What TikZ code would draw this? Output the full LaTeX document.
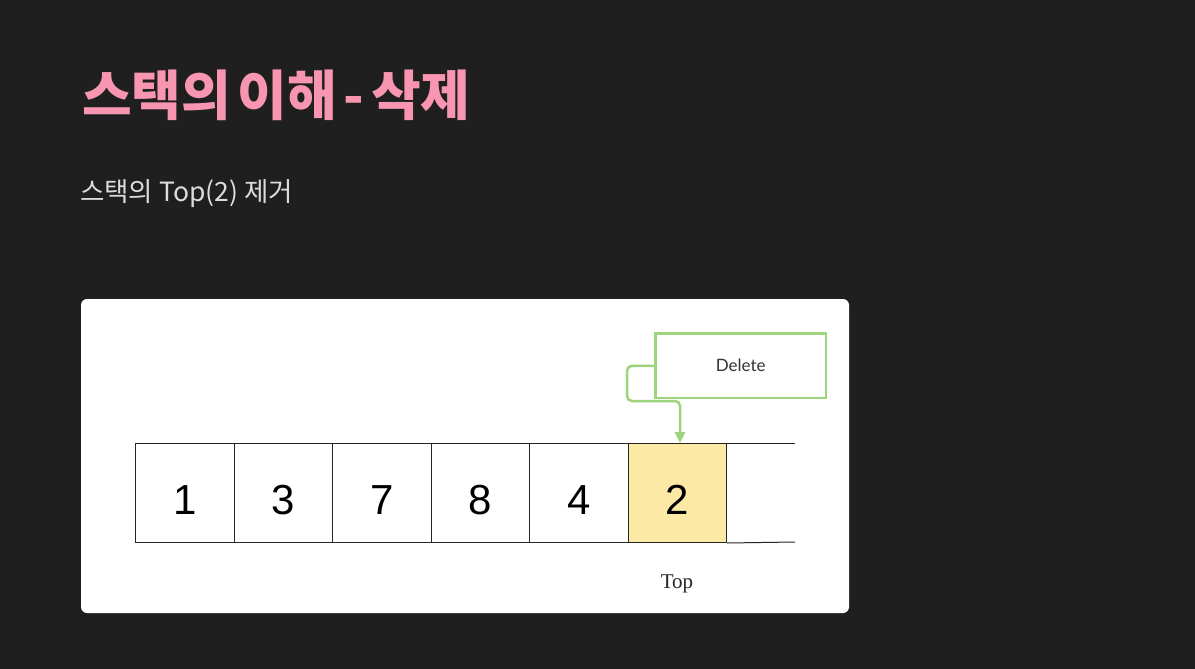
\documentclass[tikz,border=0pt]{standalone}
\usepackage{fontspec}
\newfontfamily\kr{Noto Sans CJK KR}
\newfontfamily\arialf{Liberation Sans}
\newfontfamily\timesf{Liberation Serif}
\newfontfamily\latof{Lato}
\usetikzlibrary{arrows.meta}
\definecolor{bg}{HTML}{1F1F1F}
\definecolor{pinkt}{HTML}{F895B0}
\definecolor{subt}{HTML}{DCDCDC}
\definecolor{greenl}{HTML}{9DD47C}
\definecolor{topfill}{HTML}{FDE9A6}
\definecolor{darkt}{HTML}{333333}
\tikzset{
  cell/.style={draw=black!85, line width=1pt, minimum width=98.5pt, minimum height=99pt, inner sep=0pt, anchor=north west, font=\arialf\fontsize{42}{42}\selectfont},
  greenbox/.style={draw=greenl, line width=2.5pt, minimum width=170.5pt, minimum height=64.5pt, anchor=north west, font=\latof\fontsize{17}{17}\selectfont, text=darkt},
  conn/.style={draw=greenl, line width=2.5pt, rounded corners=5pt, -{Triangle[length=11pt,width=10pt]}}
}
\newcommand{\dg}[1]{\raisebox{-21.5pt}[0pt][0pt]{#1}}
\newcommand{\tsp}{\hspace{6.6pt}}
\begin{document}
\begin{tikzpicture}[x=1pt,y=-1pt]
\fill[bg] (0,0) rectangle (1195,669);
\useasboundingbox (0,0) rectangle (1195,669);
\node[anchor=base west, inner sep=0pt, text=pinkt, font=\kr\bfseries\fontsize{54}{54}\selectfont] (title) at (82,115) {스택의\tsp 이해\tsp -\tsp 삭제};
\node[anchor=base west, inner sep=0pt, text=subt, font=\kr\fontsize{26.5}{26.5}\selectfont] (sub) at (80,201) {스택의 Top(2) 제거};
\fill[white, rounded corners=6pt] (81,299) rectangle (849,613);
\node[cell] (c1) at (135,443) {\dg{1}};
\node[cell] (c2) at (233.5,443) {\dg{3}};
\node[cell] (c3) at (332,443) {\dg{7}};
\node[cell] (c4) at (430.5,443) {\dg{8}};
\node[cell] (c5) at (529,443) {\dg{4}};
\node[cell, fill=topfill] (c6) at (627.5,443) {\dg{2}};
\coordinate (e1) at (795,443);
\coordinate (e2) at (795,542);
\draw[black!85, line width=1pt] (c6.north east) -- (e1);
\draw[black!85, line width=1pt] (c6.south east) -- (e2);
\node[greenbox] (del) at (654.25,332.25) {Delete};
\coordinate (bend) at (627,401);
\coordinate (tip) at (680,443);
\draw[conn] (del.west) -| (bend) -| (tip);
\node[anchor=base, inner sep=0pt, font=\timesf\fontsize{21}{21}\selectfont, text=black!85] (top) at (677,588) {Top};
\end{tikzpicture}
\end{document}
